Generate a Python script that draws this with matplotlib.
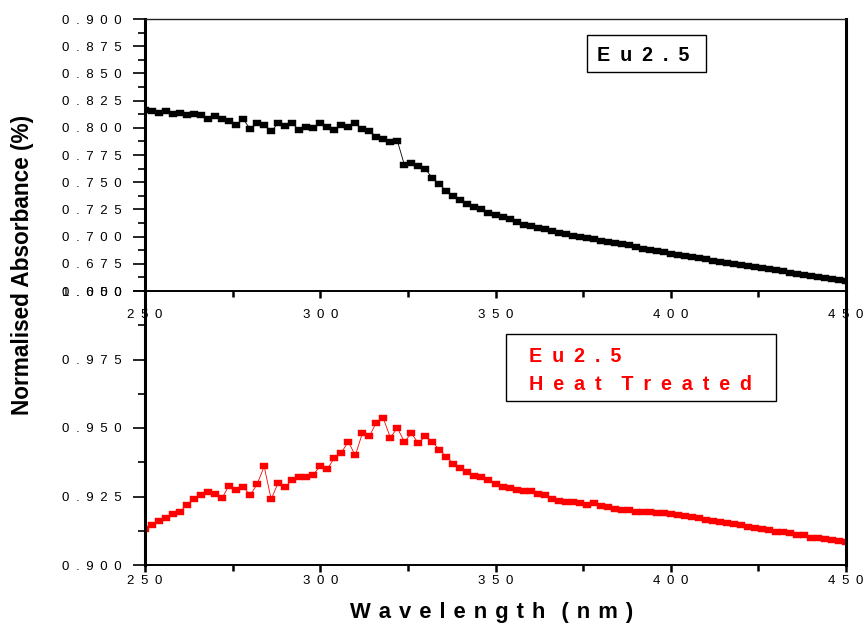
import numpy as np
import matplotlib
matplotlib.use("Agg")
import matplotlib.pyplot as plt
from matplotlib.patches import Rectangle
from matplotlib.path import Path
from matplotlib.ticker import MultipleLocator, FuncFormatter

plt.rcParams['font.family'] = ['Liberation Sans', 'DejaVu Sans']

# ---------------- data ----------------
wavelength = list(range(250, 451, 2))

eu25 = [
    0.816, 0.815, 0.814, 0.815, 0.813, 0.814, 0.812, 0.813, 0.812, 0.808,
    0.811, 0.808, 0.806, 0.803, 0.808, 0.799, 0.804, 0.803, 0.797, 0.804,
    0.802, 0.804, 0.798, 0.801, 0.800, 0.804, 0.801, 0.798, 0.803, 0.801,
    0.804, 0.799, 0.797, 0.792, 0.790, 0.787, 0.788, 0.766, 0.768, 0.765,
    0.762, 0.754, 0.748, 0.742, 0.737, 0.734, 0.730, 0.727, 0.725, 0.722,
    0.720, 0.718, 0.716, 0.713, 0.711, 0.710, 0.708, 0.707, 0.705, 0.703,
    0.702, 0.701, 0.700, 0.699, 0.698, 0.696, 0.695, 0.694, 0.693, 0.692,
    0.690, 0.689, 0.688, 0.687, 0.686, 0.684, 0.683, 0.682, 0.681, 0.680,
    0.679, 0.678, 0.677, 0.676, 0.675, 0.674, 0.673, 0.672, 0.671, 0.670,
    0.669, 0.668, 0.667, 0.666, 0.665, 0.664, 0.663, 0.662, 0.661, 0.660,
    0.659,
]

eu25_heat = [
    0.9130, 0.9145, 0.9160, 0.9170, 0.9185, 0.9195, 0.9220, 0.9240, 0.9255, 0.9265,
    0.9260, 0.9245, 0.9290, 0.9275, 0.9285, 0.9255, 0.9295, 0.9360, 0.9240, 0.9300,
    0.9285, 0.9310, 0.9320, 0.9320, 0.9330, 0.9360, 0.9350, 0.9390, 0.9410, 0.9450,
    0.9400, 0.9480, 0.9470, 0.9520, 0.9535, 0.9465, 0.9500, 0.9450, 0.9480, 0.9445,
    0.9470, 0.9450, 0.9420, 0.9395, 0.9370, 0.9355, 0.9340, 0.9325, 0.9320, 0.9310,
    0.9295, 0.9285, 0.9280, 0.9275, 0.9270, 0.9270, 0.9260, 0.9255, 0.9240, 0.9235,
    0.9230, 0.9230, 0.9225, 0.9220, 0.9225, 0.9215, 0.9210, 0.9205, 0.9200, 0.9200,
    0.9195, 0.9195, 0.9192, 0.9190, 0.9188, 0.9185, 0.9183, 0.9180, 0.9175, 0.9170,
    0.9165, 0.9160, 0.9158, 0.9155, 0.9150, 0.9145, 0.9140, 0.9135, 0.9130, 0.9128,
    0.9122, 0.9120, 0.9115, 0.9110, 0.9108, 0.9100, 0.9098, 0.9095, 0.9090, 0.9086,
    0.9085,
]

top_yticks = [0.650, 0.675, 0.700, 0.725, 0.750, 0.775, 0.800, 0.825, 0.850, 0.875, 0.900]
bot_yticks = [0.900, 0.925, 0.950, 0.975, 1.000]
xticks = [250, 300, 350, 400, 450]

label_top = "Eu2.5"
label_bot = ["Eu2.5", "Heat Treated"]
xlabel = "Wavelength (nm)"
ylabel = "Normalised Absorbance (%)"

# ---------------- helpers ----------------
EN = "\u2002"


def spaced(s, sep=EN):
    words = s.split(" ")
    return (sep + sep).join(sep.join(list(w)) for w in words)


def ytickfmt(v, pos):
    return spaced(f"{v:.3f}")


def xtickfmt(v, pos):
    return spaced(f"{v:.0f}")


rect_marker = Path([(-1, -0.72), (1, -0.72), (1, 0.72), (-1, 0.72), (-1, -0.72)],
                   [Path.MOVETO, Path.LINETO, Path.LINETO, Path.LINETO, Path.CLOSEPOLY])

# ---------------- figure ----------------
W, H = 865, 629
fig = plt.figure(figsize=(W / 100, H / 100), dpi=100)

left = 145 / W
width = (846 - 145) / W
ax_bot = fig.add_axes([left, 1 - 565 / H, width, (565 - 291) / H])
ax_top = fig.add_axes([left, 1 - 291 / H, width, (291 - 19) / H])
ax_top.patch.set_visible(False)
ax_bot.patch.set_visible(False)

for ax, y, color, yt, ylim in [
    (ax_top, eu25, 'black', top_yticks, (0.650, 0.900)),
    (ax_bot, eu25_heat, '#ff0000', bot_yticks, (0.900, 1.000)),
]:
    ax.plot(wavelength, y, color=color, lw=0.6, marker=rect_marker,
            markersize=6.3, markerfacecolor=color, markeredgecolor=color,
            markeredgewidth=0.3, zorder=2)
    ax.set_xlim(250, 450)
    ax.set_ylim(*ylim)
    ax.set_yticks(yt)
    ax.set_xticks(xticks)
    ax.yaxis.set_minor_locator(MultipleLocator(0.0125))
    ax.xaxis.set_minor_locator(MultipleLocator(25))
    ax.yaxis.set_major_formatter(FuncFormatter(ytickfmt))
    ax.xaxis.set_major_formatter(FuncFormatter(xtickfmt))
    ax.tick_params(axis='y', which='major', direction='out', length=9, width=1.2,
                   labelsize=9.5, pad=8, colors='black')
    ax.tick_params(axis='y', which='minor', direction='out', length=5, width=1.2)
    ax.tick_params(axis='x', which='major', direction='out', length=5, width=1.8,
                   labelsize=9.5)
    ax.tick_params(axis='x', which='minor', direction='out', length=4, width=1.8)
    ax.spines['left'].set_linewidth(2.2)
    ax.spines['right'].set_linewidth(2.2)
    ax.spines['bottom'].set_linewidth(1.4)
    ax.spines['top'].set_linewidth(1.0)
    for s in ax.spines.values():
        s.set_zorder(5)

ax_top.tick_params(axis='x', which='major', pad=8)
ax_bot.tick_params(axis='x', which='major', pad=2)
ax_bot.spines['top'].set_visible(False)
ax_top.spines['top'].set_color('#222222')

# legend boxes
ax_top.add_patch(Rectangle(((587 - 145) / 701, (291 - 72) / 272), 119 / 701, 37 / 272,
                           transform=ax_top.transAxes, fill=False, lw=1.0,
                           edgecolor='black', zorder=4))
ax_top.text((597 - 145) / 701, (291 - 61) / 272, spaced(label_top),
            transform=ax_top.transAxes, fontsize=14.2, fontweight='bold',
            color='black', ha='left', va='baseline', zorder=4)

ax_bot.add_patch(Rectangle(((506 - 145) / 701, (565 - 401) / 274), 270 / 701, 67 / 274,
                           transform=ax_bot.transAxes, fill=False, lw=1.0,
                           edgecolor='black', zorder=4))
ax_bot.text((529 - 145) / 701, (565 - 362) / 274, spaced(label_bot[0]),
            transform=ax_bot.transAxes, fontsize=14.2, fontweight='bold',
            color='#ff0000', ha='left', va='baseline', zorder=4)
ax_bot.text((529 - 145) / 701, (565 - 390) / 274, spaced(label_bot[1]),
            transform=ax_bot.transAxes, fontsize=14.2, fontweight='bold',
            color='#ff0000', ha='left', va='baseline', zorder=4)

# axis labels
fig.text(491.5 / W, 1 - 618 / H, spaced(xlabel, " \u200a"), ha='center', va='baseline',
         fontsize=15.8, fontweight='bold')
fig.text(23 / W, 1 - 265 / H, ylabel, ha='center', va='center', rotation=90,
         fontsize=16.3, fontweight='bold')

fig.savefig("out.png", dpi=100)
